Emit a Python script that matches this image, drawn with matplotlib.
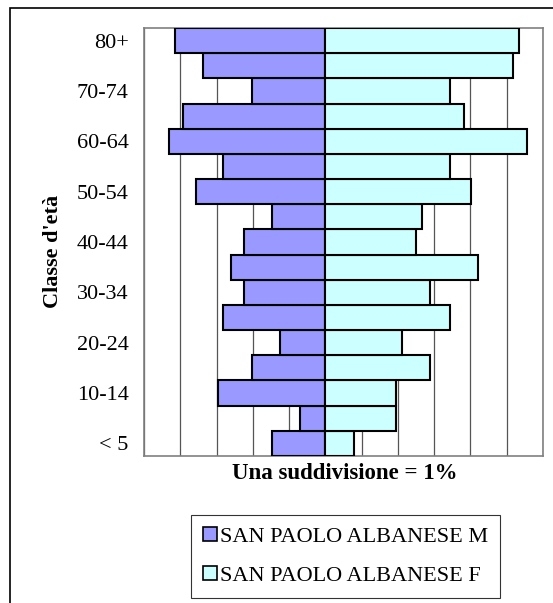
import matplotlib
matplotlib.use('Agg')
import matplotlib.pyplot as plt
from matplotlib.patches import Rectangle, Patch

plt.rcParams['font.family'] = ['Liberation Serif', 'DejaVu Serif']

# age classes, bottom to top
classes = ['< 5', '5-9', '10-14', '15-19', '20-24', '25-29', '30-34', '35-39',
           '40-44', '45-49', '50-54', '55-59', '60-64', '65-69', '70-74', '75-79', '80+']
# percentages
males = [1.48, 0.70, 2.97, 2.03, 1.26, 2.81, 2.24, 2.59, 2.25, 1.48, 3.58, 2.81, 4.30, 3.92, 2.03, 3.37, 4.14]
females = [0.78, 1.95, 1.95, 2.89, 2.11, 3.44, 2.89, 4.22, 2.50, 2.67, 4.01, 3.44, 5.56, 3.83, 3.44, 5.16, 5.33]

fig = plt.figure(figsize=(5.53, 6.03), dpi=100)
ax = fig.add_axes([144 / 553, 1 - 456 / 603, 399 / 553, 428 / 603])

y = range(len(classes))
ax.barh(y, [-m for m in males], height=1.0, color='#9999FF', edgecolor='black', linewidth=1.5, zorder=3)
ax.barh(y, females, height=1.0, color='#CCFFFF', edgecolor='black', linewidth=1.5, zorder=3)

ax.set_xlim(-5, 6)
ax.set_ylim(-0.5, len(classes) - 0.5)
ax.set_xticks(range(-5, 7))
ax.set_xticklabels([])
ax.grid(axis='x', color='#555555', linewidth=0.9, zorder=0)
ax.tick_params(axis='both', length=0, labelsize=16)
ax.set_yticks(list(y)[::2])
ax.set_yticklabels(classes[::2])
ax.tick_params(axis='y', pad=11)
for s in ax.spines.values():
    s.set_color('#808080')
    s.set_linewidth(1.2)

ax.set_xlabel('Una suddivisione = 1%', fontsize=16.5, fontweight='bold')
ax.xaxis.set_label_coords(0.5025, -0.016)
ax.set_ylabel("Classe d'età", fontsize=16, fontweight='bold')
ax.yaxis.set_label_coords(-0.203, 0.479)

handles = [Patch(facecolor='#9999FF', edgecolor='black', linewidth=1.2, label='SAN PAOLO ALBANESE M'),
           Patch(facecolor='#CCFFFF', edgecolor='black', linewidth=1.2, label='SAN PAOLO ALBANESE F')]
leg = fig.legend(handles=handles, loc='upper left', bbox_to_anchor=(191 / 553, 1 - 515 / 603),
                 fontsize=16, frameon=True, fancybox=False, edgecolor='black',
                 handlelength=0.6, handleheight=0.6, handletextpad=0.15, borderpad=0.55, labelspacing=0.85,
                 borderaxespad=0)
leg.get_frame().set_linewidth(0.8)

fig.add_artist(Rectangle((10 / 553, -0.1), 1.0, 1 - 8 / 603 + 0.1, fill=False,
                         edgecolor='black', linewidth=1.2, transform=fig.transFigure))

fig.savefig('out.png', dpi=100)
